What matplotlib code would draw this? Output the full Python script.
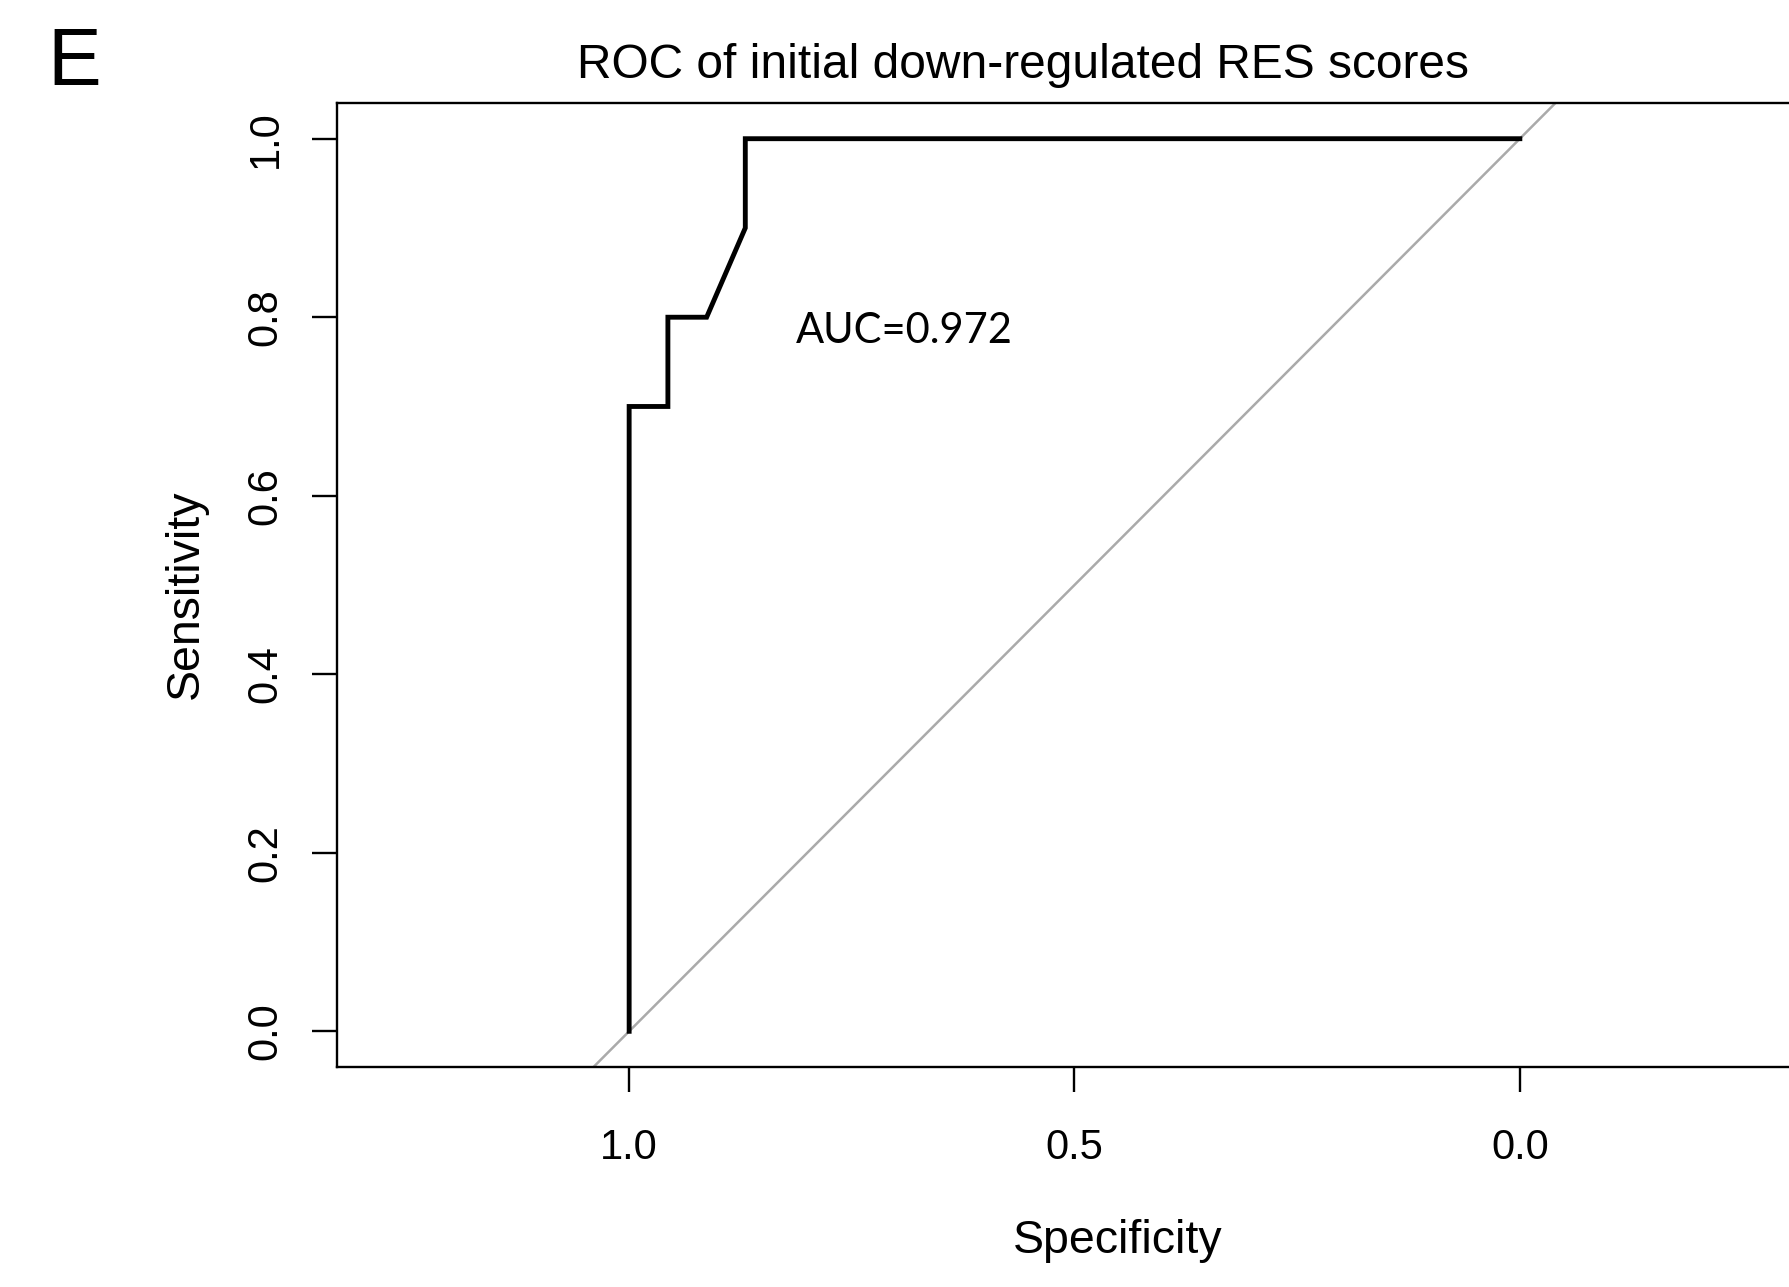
import matplotlib as mpl
mpl.use('Agg')
import matplotlib.pyplot as plt

plt.rcParams['font.family'] = ['Liberation Sans', 'DejaVu Sans']

# ROC curve (specificity, sensitivity), 23 controls / 10 cases
specificity = [1.0, 1.0, 0.9565, 0.9565, 0.9130, 0.8696, 0.8696, 0.0]
sensitivity = [0.0, 0.7, 0.7, 0.8, 0.8, 0.9, 1.0, 1.0]
auc_text = "AUC=0.972"
title = "ROC of initial down-regulated RES scores"
xticks = [1.0, 0.5, 0.0]
yticks = [0.0, 0.2, 0.4, 0.6, 0.8, 1.0]

fig = plt.figure(figsize=(17.9, 12.87), dpi=100)
# axes box runs past the right edge of the figure, as in the cropped original
ax = fig.add_axes([337 / 1790, 1 - 1067 / 1287, 1475 / 1790, 964 / 1287])

ax.plot([1.328, -0.328], [-0.328, 1.328], color='#aaaaaa', lw=1.8, zorder=1)
ax.plot(specificity, sensitivity, color='black', lw=3.5, zorder=2,
        solid_joinstyle='miter')

ax.set_xlim(1.328, -0.328)
ax.set_ylim(-0.04, 1.04)

for s in ax.spines.values():
    s.set_linewidth(1.7)

ax.set_xticks(xticks)
ax.set_xticklabels(["%.1f" % v for v in xticks])
ax.set_yticks(yticks)
ax.set_yticklabels(["%.1f" % v for v in yticks], rotation=90, va='center')
ax.tick_params(length=18, width=1.7, labelsize=30)
ax.tick_params(axis='x', pad=26)
ax.tick_params(axis='y', pad=19)

fig.text(1118 / 1790, 1 - 1241 / 1287, "Specificity", fontsize=33.5,
         ha='center', va='center')
fig.text(186 / 1790, 1 - 594 / 1287, "Sensitivity", fontsize=33.5, rotation=90,
         ha='center', va='center')
fig.text(1023 / 1790, 1 - 65 / 1287, title, fontsize=34.5, ha='center', va='center')
fig.text(47 / 1790, 1 - 85 / 1287, "E", fontsize=58, ha='left', va='baseline')
ax.text(796 / 1790, 1 - 331 / 1287, auc_text, transform=fig.transFigure,
        fontsize=30, family=['Lato', 'DejaVu Sans'], ha='left', va='center')

fig.savefig("out.png", dpi=100)
